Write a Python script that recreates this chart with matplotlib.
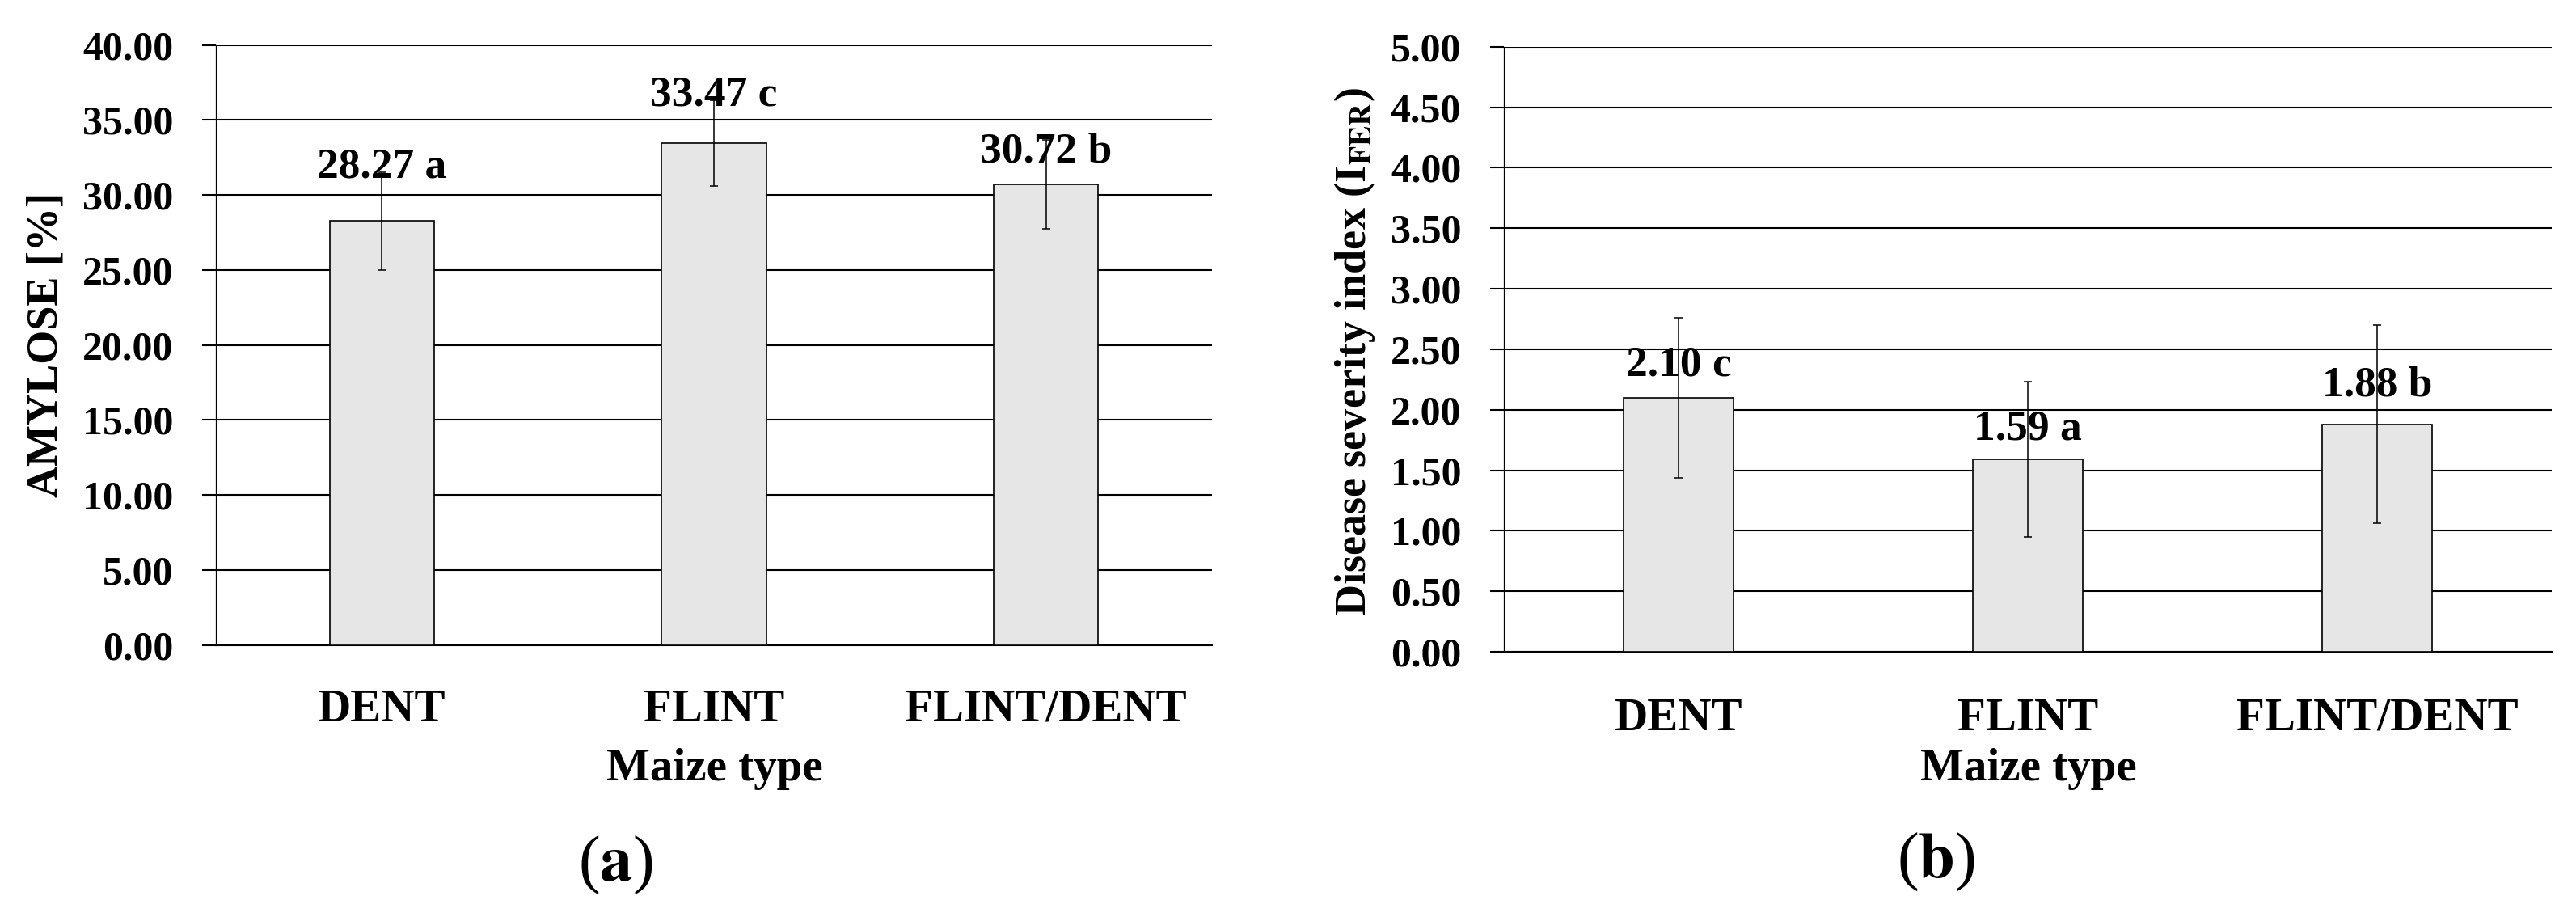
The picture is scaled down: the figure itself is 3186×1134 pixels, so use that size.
import matplotlib
matplotlib.use('Agg')
import matplotlib.pyplot as plt
from matplotlib.ticker import FormatStrFormatter, MultipleLocator

plt.rcParams['font.family'] = ['Liberation Serif', 'DejaVu Serif']
plt.rcParams['font.weight'] = 'bold'
plt.rcParams['mathtext.fontset'] = 'stix'

# Data
categories = ['DENT', 'FLINT', 'FLINT/DENT']
amylose = [28.27, 33.47, 30.72]
amylose_err = [3.27, 2.86, 2.95]
amylose_letters = ['a', 'c', 'b']
severity = [2.10, 1.59, 1.88]
severity_err = [0.66, 0.64, 0.82]
severity_letters = ['c', 'a', 'b']

fig = plt.figure(figsize=(31.86, 11.34), dpi=100)

# panel geometry: [left, bottom, width, height] in figure fractions
ax_a = fig.add_axes([0.0838, 0.2967, 0.3867, 0.6542])
ax_b = fig.add_axes([0.5838, 0.2892, 0.4068, 0.6598])


def draw_panel(ax, values, errors, letters, ymax, step, label_offsets, xpad):
    x = range(len(categories))
    ax.bar(x, values, width=0.315, color='#e6e6e6', edgecolor='black',
           linewidth=1.2, zorder=3)
    ax.errorbar(x, values, yerr=errors, fmt='none', ecolor='black',
                elinewidth=1.1, capsize=3.6, capthick=1.1, zorder=4)
    for xi, v, let, off in zip(x, values, letters, label_offsets):
        ax.annotate(f'{v:.2f} {let}', (xi, v), xytext=(0, off),
                    textcoords='offset points', ha='center', va='center',
                    fontsize=38.5, fontweight='bold', zorder=5)
    ax.set_xlim(-0.5, len(categories) - 0.5)
    ax.set_ylim(0, ymax)
    ax.yaxis.set_major_locator(MultipleLocator(step))
    ax.yaxis.set_major_formatter(FormatStrFormatter('%.2f'))
    ax.set_xticks(list(x))
    ax.set_xticklabels(categories)
    ax.tick_params(axis='x', length=0, pad=xpad, labelsize=41)
    ax.tick_params(axis='y', direction='out', length=12, width=1.5,
                   pad=26, labelsize=36)
    ax.yaxis.grid(True, color='black', linewidth=1.5)
    ax.set_axisbelow(True)
    for s in ['top', 'right']:
        ax.spines[s].set_visible(False)
    ax.spines['left'].set_linewidth(0.9)
    ax.spines['bottom'].set_linewidth(1.5)


draw_panel(ax_a, amylose, amylose_err, amylose_letters, 40, 5,
           [48, 43, 29], 39)
draw_panel(ax_b, severity, severity_err, severity_letters, 5, 0.5,
           [29, 27, 35], 41)

# axis titles
fig.text(0.0179, 0.624, 'AMYLOSE [%]', rotation=90, ha='center',
         va='center', fontsize=39, fontweight='bold')
fig.text(0.526, 0.617, r'Disease severity index (I$_{\mathbf{FER}}$)',
         rotation=90, ha='center', va='center', fontsize=39,
         fontweight='bold')
fig.text(0.2773, 1 - 951 / 1134, 'Maize type', ha='center', va='center',
         fontsize=41, fontweight='bold')
fig.text(0.7875, 1 - 951 / 1134, 'Maize type', ha='center', va='center',
         fontsize=41, fontweight='bold')

# panel letters
fig.text(0.2389, 1 - 1070 / 1134, r'($\mathbf{a}$)', ha='center',
         va='center', fontsize=58, fontweight='normal')
fig.text(0.7514, 1 - 1066 / 1134, r'($\mathbf{b}$)', ha='center',
         va='center', fontsize=58, fontweight='normal')

fig.savefig('out.png', dpi=100, facecolor='white')
